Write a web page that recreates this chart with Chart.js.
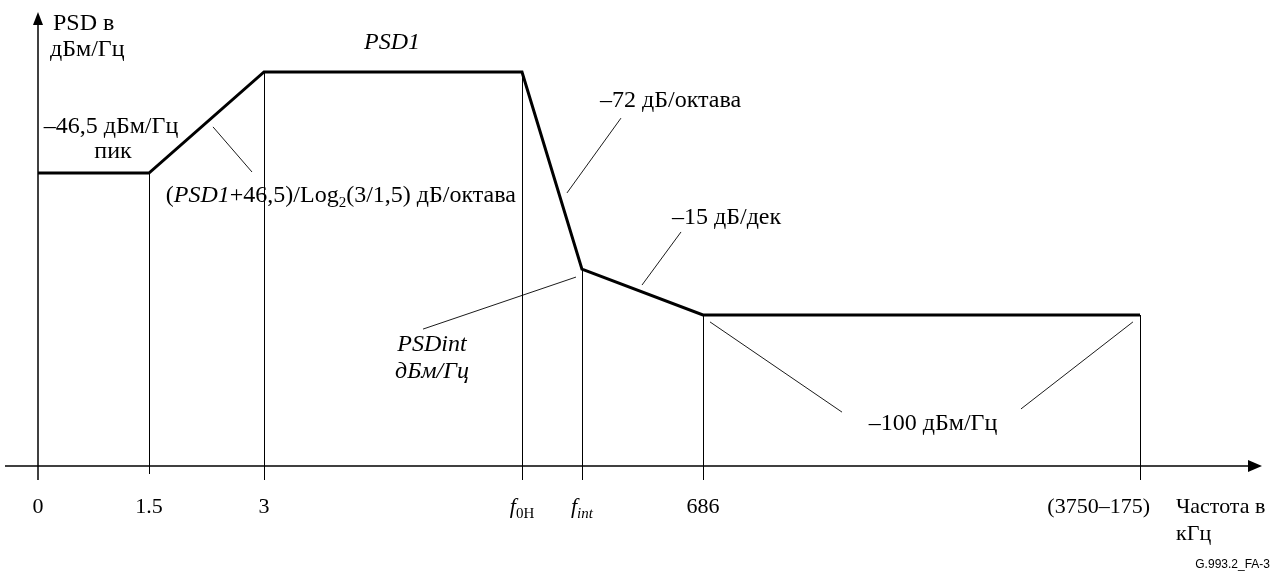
<!DOCTYPE html>
<html>
<head>
<meta charset="utf-8">
<script src="https://cdn.jsdelivr.net/npm/chart.js@4.4.1/dist/chart.umd.min.js"></script>
<style>
  html, body { margin: 0; padding: 0; background: #fff; }
  #wrap { width: 1276px; height: 572px; position: relative; }
</style>
</head>
<body>
<div id="wrap"><canvas id="psdChart"></canvas></div>
<script>
// break points of the PSD mask (schematic x position 0..100, level in dBm/Hz)
var breakLabels = ['0', '1.5', '3', 'f0H', 'fint', '686', '(3750–175)'];
var breakPos = [0, 10.07, 20.51, 43.92, 49.36, 60.34, 100];
var psdLevels = [-46.5, -46.5, -8.4, -8.4, -82.7, -100, -100];
var longTick = [true, false, true, true, true, true, true];

// callout leader lines: [x1, y1, x2, y2] in the same units
var leaders = [
    [15.88, -29.1, 19.42, -46.1],
    [52.90, -25.8, 48.00, -54.0],
    [58.35, -68.7, 54.81, -88.7],
    [48.82, -85.7, 34.94, -105.3],
    [60.98, -102.6, 72.96, -136.6],
    [99.36, -102.6, 89.20, -135.4]
];

var SERIF = '"Liberation Serif", "Times New Roman", serif';
var FS = 24;   // main font size
var SUB = 15;  // subscript size

function font(italic, size) {
    return (italic ? 'italic ' : '') + size + 'px ' + SERIF;
}

// draw a line of text made of runs {t, i (italic), s (subscript)}
function drawRuns(ctx, runs, x, y, align, size) {
    var fs = size || FS;
    var total = 0;
    runs.forEach(function(r) {
        ctx.font = font(r.i, r.s ? SUB : fs);
        r.w = ctx.measureText(r.t).width;
        total += r.w;
    });
    var cx = x;
    if (align === 'center') cx = x - total / 2;
    if (align === 'right') cx = x - total;
    ctx.textAlign = 'left';
    ctx.textBaseline = 'middle';
    runs.forEach(function(r) {
        ctx.font = font(r.i, r.s ? SUB : fs);
        ctx.fillText(r.t, cx, r.s ? y + 7 : y);
        cx += r.w;
    });
}

var schemePlugin = {
    id: 'scheme',
    beforeDatasetsDraw: function(chart) {
        var ctx = chart.ctx;
        var xs = chart.scales.x, ys = chart.scales.y;
        var area = chart.chartArea;
        var axisY = area.bottom;
        ctx.save();
        ctx.strokeStyle = '#000';
        ctx.fillStyle = '#000';

        // x axis with arrow
        ctx.lineWidth = 1.5;
        ctx.beginPath();
        ctx.moveTo(5, axisY);
        ctx.lineTo(area.right + 110, axisY);
        ctx.stroke();
        ctx.beginPath();
        ctx.moveTo(area.right + 122, axisY);
        ctx.lineTo(area.right + 108, axisY - 6);
        ctx.lineTo(area.right + 108, axisY + 6);
        ctx.closePath();
        ctx.fill();

        // y axis with arrow
        var x0 = xs.getPixelForValue(0);
        ctx.beginPath();
        ctx.moveTo(x0, axisY + 14);
        ctx.lineTo(x0, area.top + 10);
        ctx.stroke();
        ctx.beginPath();
        ctx.moveTo(x0, area.top);
        ctx.lineTo(x0 - 5, area.top + 13);
        ctx.lineTo(x0 + 5, area.top + 13);
        ctx.closePath();
        ctx.fill();

        // vertical drop lines from each break point
        ctx.lineWidth = 1;
        for (var i = 1; i < breakPos.length; i++) {
            var px = Math.round(xs.getPixelForValue(breakPos[i])) + 0.5;
            ctx.beginPath();
            ctx.moveTo(px, ys.getPixelForValue(psdLevels[i]));
            ctx.lineTo(px, axisY + (longTick[i] ? 14 : 8));
            ctx.stroke();
        }

        // leader lines
        ctx.lineWidth = 0.9;
        leaders.forEach(function(l) {
            ctx.beginPath();
            ctx.moveTo(xs.getPixelForValue(l[0]), ys.getPixelForValue(l[1]));
            ctx.lineTo(xs.getPixelForValue(l[2]), ys.getPixelForValue(l[3]));
            ctx.stroke();
        });
        ctx.restore();
    },
    afterDatasetsDraw: function(chart) {
        var ctx = chart.ctx;
        var xs = chart.scales.x, ys = chart.scales.y;
        var area = chart.chartArea;
        var X = function(v) { return xs.getPixelForValue(v); };
        var Y = function(v) { return ys.getPixelForValue(v); };
        ctx.save();
        ctx.fillStyle = '#000';

        // tick labels under the x axis
        var ly = area.bottom + 41;
        breakLabels.forEach(function(lab, i) {
            var runs, align = 'center', x = X(breakPos[i]);
            if (lab === 'f0H') runs = [{t: 'f', i: true}, {t: '0Н', s: true}];
            else if (lab === 'fint') runs = [{t: 'f', i: true}, {t: 'int', i: true, s: true}];
            else runs = [{t: lab}];
            if (i === breakLabels.length - 1) { align = 'right'; x += 10; }
            drawRuns(ctx, runs, x, ly, align, 22);
        });

        // axis titles
        drawRuns(ctx, [{t: 'Частота в'}], area.right + 36, ly, 'left', 22);
        drawRuns(ctx, [{t: 'кГц'}], area.right + 36, ly + 27, 'left', 22);
        drawRuns(ctx, [{t: 'PSD в'}], X(0) + 15, area.top + 12, 'left');
        drawRuns(ctx, [{t: 'дБм/Гц'}], X(0) + 12, area.top + 38, 'left');

        // callout texts
        drawRuns(ctx, [{t: 'PSD1', i: true}], X(32.12), Y(2.5), 'center');
        drawRuns(ctx, [{t: '–46,5 дБм/Гц'}], X(6.62), Y(-29.2), 'center');
        drawRuns(ctx, [{t: 'пик'}], X(6.81), Y(-38.5), 'center');
        drawRuns(ctx, [
            {t: '('}, {t: 'PSD1', i: true}, {t: '+46,5)/Log'}, {t: '2', s: true},
            {t: '(3/1,5) дБ/октава'}
        ], X(11.6), Y(-55.0), 'left');
        drawRuns(ctx, [{t: '–72 дБ/октава'}], X(51.0), Y(-19.3), 'left');
        drawRuns(ctx, [{t: '–15 дБ/дек'}], X(57.53), Y(-63.4), 'left');
        drawRuns(ctx, [{t: 'PSDint', i: true}], X(35.75), Y(-111.0), 'center');
        drawRuns(ctx, [{t: 'дБм/Гц', i: true}], X(35.75), Y(-121.3), 'center');
        drawRuns(ctx, [{t: '–100 дБм/Гц'}], X(81.22), Y(-141.1), 'center');

        // figure id
        ctx.font = '12px "Liberation Sans", Arial, sans-serif';
        ctx.textAlign = 'right';
        ctx.textBaseline = 'middle';
        ctx.fillText('G.993.2_FA-3', 1270, 565);
        ctx.restore();
    }
};

var points = breakPos.map(function(x, i) { return {x: x, y: psdLevels[i]}; });

new Chart(document.getElementById('psdChart').getContext('2d'), {
    type: 'scatter',
    data: {
        datasets: [{
            data: points,
            showLine: true,
            borderColor: '#000',
            borderWidth: 3,
            borderJoinStyle: 'miter',
            pointRadius: 0,
            tension: 0,
            clip: false
        }]
    },
    options: {
        responsive: true,
        maintainAspectRatio: false,
        animation: false,
        layout: { padding: { left: 38, right: 136, top: 12, bottom: 106 } },
        plugins: { legend: { display: false }, tooltip: { enabled: false } },
        scales: {
            x: { type: 'linear', min: 0, max: 100, display: false },
            y: { type: 'linear', min: -156.9, max: 14.2, display: false }
        }
    },
    plugins: [schemePlugin]
});
</script>
</body>
</html>
